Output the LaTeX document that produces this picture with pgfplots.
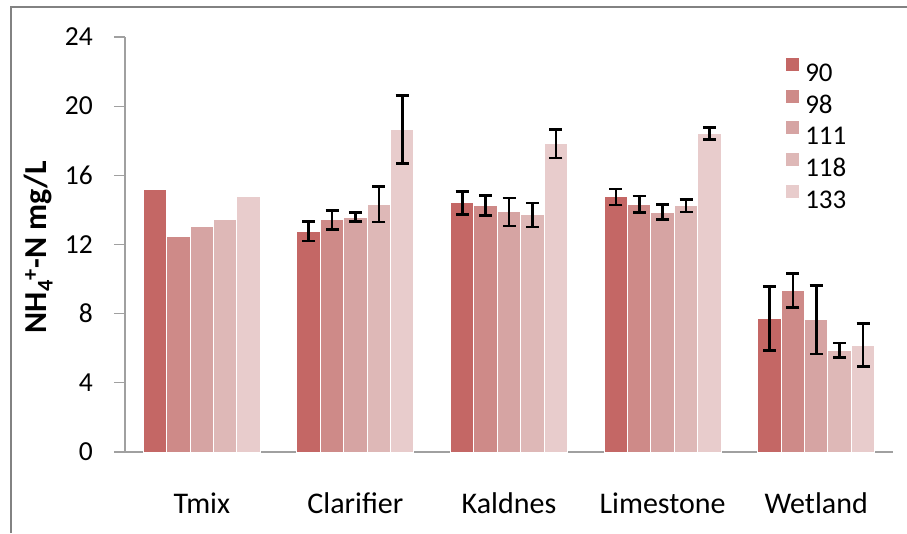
\documentclass[border=0pt]{standalone}
\usepackage{pgfplots}
\pgfplotsset{compat=1.18}
\usepackage{fontspec}
\setmainfont{Carlito}
\definecolor{c1}{RGB}{196,103,101}
\definecolor{c2}{RGB}{206,138,136}
\definecolor{c3}{RGB}{214,164,163}
\definecolor{c4}{RGB}{222,184,183}
\definecolor{c5}{RGB}{232,204,204}
\definecolor{axisgray}{RGB}{160,160,160}
\definecolor{framegray}{RGB}{130,130,130}
\begin{document}
\begin{tikzpicture}[x=1pt,y=1pt]
\path[use as bounding box] (0,0) rectangle (907,533);
\draw[framegray, line width=2pt] (11,0) -- (11,526) -- (907,526);
\begin{axis}[
  at={(125pt,81pt)}, anchor=south west,
  scale only axis, width=768pt, height=415pt,
  xmin=-0.5, xmax=4.5, ymin=0, ymax=24,
  ybar=0pt, bar width=23.4pt,
  axis x line*=bottom, axis y line*=left,
  axis line style={draw=axisgray, line width=1.2pt},
  xtick={0,1,2,3,4},
  xticklabels={Tmix,Clarifier,Kaldnes,Limestone,Wetland},
  x tick style={draw=none},
  ytick={0,4,...,24},
  tick align=outside, major tick length=11pt,
  y tick style={axisgray, line width=1.2pt},
  /pgf/number format/assume math mode=true,
  yticklabel style={font=\fontsize{27.5}{30}\selectfont, anchor=east, inner sep=0pt, xshift=-21pt},
  xticklabel style={font=\fontsize{30}{34}\selectfont, anchor=north, inner sep=0pt, text height=20pt, text depth=6pt, yshift=-30.3pt},
  ylabel={\textbf{NH\textsubscript{4}\textsuperscript{+}-N mg/L}},
  ylabel style={font=\fontsize{32}{36}\selectfont, at={(axis description cs:-0.102,0.494)}, anchor=base},
  legend style={draw=none, fill=none, inner sep=0pt, outer sep=0pt,
    at={(0.861,0.950)}, anchor=north west,
    font=\fontsize{27}{30}\selectfont,
    row sep=8.25pt, column sep=6pt,
    nodes={inner sep=0pt, outer sep=0pt, text height=17pt, text depth=0pt, anchor=west}},
  legend cell align=left,
  legend image code/.code={\fill[#1,draw=none] (0pt,2pt) rectangle (13pt,15pt);},
  error bars/error bar style={black, line width=2.6pt},
  error bars/error mark options={black, rotate=90, mark size=6.5pt, line width=2.6pt},
]
% bars
\addplot[fill=c1, draw=white, line width=1pt, bar shift=-46.8pt] coordinates {(0,15.19) (1,12.76) (2,14.40) (3,14.75) (4,7.72)};
\addplot[fill=c2, draw=white, line width=1pt, bar shift=-23.4pt] coordinates {(0,12.45) (1,13.42) (2,14.25) (3,14.33) (4,9.35)};
\addplot[fill=c3, draw=white, line width=1pt, bar shift=0pt] coordinates {(0,13.05) (1,13.58) (2,13.88) (3,13.87) (4,7.65)};
\addplot[fill=c4, draw=white, line width=1pt, bar shift=23.4pt] coordinates {(0,13.42) (1,14.33) (2,13.71) (3,14.24) (4,5.88)};
\addplot[fill=c5, draw=white, line width=1pt, bar shift=46.8pt] coordinates {(0,14.75) (1,18.65) (2,17.83) (3,18.42) (4,6.18)};
\legend{90,98,111,118,133}
% error bars (no error bars for Tmix)
\addplot[forget plot, draw=none, fill=none, bar shift=-46.8pt, error bars/.cd, y dir=both, y explicit]
  coordinates {(1,12.76) +- (0,0.56) (2,14.40) +- (0,0.66) (3,14.75) +- (0,0.46) (4,7.72) +- (0,1.86)};
\addplot[forget plot, draw=none, fill=none, bar shift=-23.4pt, error bars/.cd, y dir=both, y explicit]
  coordinates {(1,13.42) +- (0,0.54) (2,14.25) +- (0,0.58) (3,14.33) +- (0,0.47) (4,9.35) +- (0,0.99)};
\addplot[forget plot, draw=none, fill=none, bar shift=0pt, error bars/.cd, y dir=both, y explicit]
  coordinates {(1,13.58) +- (0,0.26) (2,13.88) +- (0,0.80) (3,13.87) +- (0,0.43) (4,7.65) +- (0,1.98)};
\addplot[forget plot, draw=none, fill=none, bar shift=23.4pt, error bars/.cd, y dir=both, y explicit]
  coordinates {(1,14.33) +- (0,1.02) (2,13.71) +- (0,0.69) (3,14.24) +- (0,0.35) (4,5.88) +- (0,0.42)};
\addplot[forget plot, draw=none, fill=none, bar shift=46.8pt, error bars/.cd, y dir=both, y explicit]
  coordinates {(1,18.65) +- (0,1.98) (2,17.83) +- (0,0.83) (3,18.42) +- (0,0.34) (4,6.18) +- (0,1.24)};
\end{axis}
\end{tikzpicture}
\end{document}
